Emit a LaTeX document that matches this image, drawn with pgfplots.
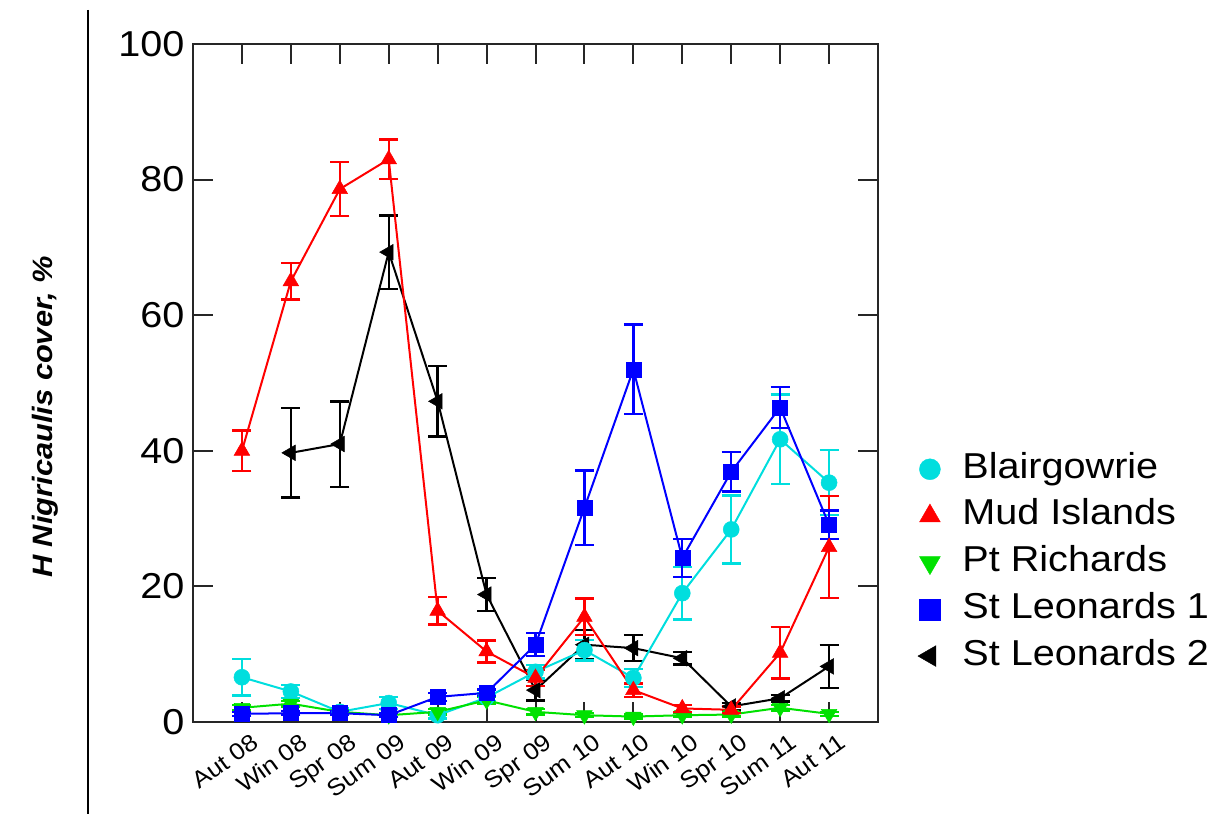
\documentclass[border=0pt]{standalone}
\usepackage{pgfplots}
\pgfplotsset{compat=1.18}
\usepackage{pgfplotstable}
\usepackage{fontspec}
\setmainfont{Liberation Sans}[FakeStretch=1.1]
\definecolor{bcyan}{RGB}{0,222,222}
\definecolor{pgreen}{RGB}{0,225,0}

\pgfplotstableread{
x y e
0 6.6 2.7
1 4.5 1.0
2 1.5 0.5
3 2.8 0.9
4 1.0 0.5
5 3.6 0.6
6 7.4 1.0
7 10.6 1.5
8 6.5 1.3
9 19.0 3.9
10 28.4 5.0
11 41.7 6.6
12 35.3 4.8
}\blair

\pgfplotstableread{
x y e
0 40.0 3.0
1 65.0 2.7
2 78.6 4.0
3 83.0 2.9
4 16.4 2.0
5 10.4 1.6
6 6.5 1.2
7 15.5 2.7
8 4.7 1.0
9 2.0 0.5
10 1.8 0.5
11 10.2 3.8
12 25.8 7.5
}\mud

\pgfplotstableread{
x y e
0 2.1 0.4
1 2.7 0.4
2 1.5 0.3
3 1.0 0.3
4 1.5 0.4
5 3.2 0.5
6 1.5 0.4
7 1.0 0.3
8 0.8 0.3
9 1.0 0.3
10 1.1 0.3
11 2.1 0.4
12 1.2 0.3
}\ptr

\pgfplotstableread{
x y e
0 1.2 0.3
1 1.3 0.3
2 1.3 0.3
3 1.0 0.3
4 3.7 0.6
5 4.3 0.5
6 11.4 1.7
7 31.6 5.5
8 52.0 6.6
9 24.2 2.8
10 36.9 2.9
11 46.4 3.0
12 29.1 2.1
}\sla

\pgfplotstableread{
x y e
1 39.7 6.6
2 41.0 6.3
3 69.3 5.4
4 47.3 5.2
5 18.8 2.4
6 4.7 1.5
7 11.4 2.2
8 10.9 1.9
9 9.4 0.9
10 2.3 0.5
11 3.5 0.5
12 8.2 3.2
}\slb

\begin{document}
\begin{tikzpicture}
\useasboundingbox (-193pt,-92pt) rectangle (1032pt,722pt);
\draw[line width=2.5pt] (-105pt,712pt) -- (-105pt,-92pt);
\begin{axis}[
  at={(0pt,0pt)}, anchor=south west,
  scale only axis, width=685pt, height=678pt,
  xmin=-1, xmax=13, ymin=0, ymax=100,
  xtick={0,...,12},
  xticklabels={Aut 08,Win 08,Spr 08,Sum 09,Aut 09,Win 09,Spr 09,Sum 10,Aut 10,Win 10,Spr 10,Sum 11,Aut 11},
  ytick={0,20,...,100},
  major tick length=20pt,
  tick style={line width=2pt, black!85},
  axis line style={line width=2.5pt, black!85},
  x tick label style={font=\fontsize{23.5}{26}\selectfont, rotate=36, anchor=north east, yshift=-10pt, xshift=4pt},
  y tick label style={font=\fontsize{36}{40}\selectfont, xshift=-5pt},
  /pgf/number format/assume math mode=true,
  ylabel={H Nigricaulis cover, \%},
  ylabel style={font=\fontsize{28}{30}\selectfont\bfseries\itshape, at={(axis description cs:-0.216,0.45)}, anchor=center},
  legend style={draw=none, fill=none, inner sep=0pt, at={(axis description cs:1.058,0.235)}, anchor=west,
    font=\fontsize{36}{40}\selectfont, row sep=12.7pt, column sep=22pt,
    nodes={inner sep=0pt, text height=26pt, text depth=8pt}},
  legend cell align=left,
  legend entries={Blairgowrie, Mud Islands, Pt Richards, St Leonards 1, St Leonards 2},
]
\addlegendimage{only marks, mark=*, color=bcyan, mark size=10.5pt}
\addlegendimage{only marks, mark=triangle*, color=red, mark size=12pt}
\addlegendimage{only marks, mark=triangle*, color=pgreen, mark size=12pt, mark options={rotate=180}}
\addlegendimage{only marks, mark=square*, color=blue, mark size=10.5pt}
\addlegendimage{only marks, mark=triangle*, color=black, mark size=12pt, mark options={rotate=90}}

\addplot[forget plot, color=black, line width=2pt, mark=triangle*, mark size=9pt, mark options={rotate=90, line width=0.5pt},
  error bars/.cd, y dir=both, y explicit, error bar style={line width=2.4pt, black}, error mark options={rotate=90, line width=2.4pt, mark size=9.5pt, black}]
  table[x=x, y=y, y error=e]{\slb};
\addplot[forget plot, color=bcyan, line width=2pt, mark=*, mark size=8pt, mark options={line width=0.5pt},
  error bars/.cd, y dir=both, y explicit, error bar style={line width=2.4pt, bcyan}, error mark options={rotate=90, line width=2.4pt, mark size=9.5pt, bcyan}]
  table[x=x, y=y, y error=e]{\blair};
\addplot[forget plot, color=pgreen, line width=2pt, mark=triangle*, mark size=9pt, mark options={rotate=180, line width=0.5pt},
  error bars/.cd, y dir=both, y explicit, error bar style={line width=2.4pt, pgreen}, error mark options={rotate=90, line width=2.4pt, mark size=9.5pt, pgreen}]
  table[x=x, y=y, y error=e]{\ptr};
\addplot[forget plot, color=red, line width=2pt, mark=triangle*, mark size=9pt, mark options={line width=0.5pt},
  error bars/.cd, y dir=both, y explicit, error bar style={line width=2.4pt, red}, error mark options={rotate=90, line width=2.4pt, mark size=9.5pt, red}]
  table[x=x, y=y, y error=e]{\mud};
\addplot[forget plot, color=blue, line width=2pt, mark=square*, mark size=7.5pt, mark options={line width=0.5pt},
  error bars/.cd, y dir=both, y explicit, error bar style={line width=2.4pt, blue}, error mark options={rotate=90, line width=2.4pt, mark size=9.5pt, blue}]
  table[x=x, y=y, y error=e]{\sla};
\end{axis}
\end{tikzpicture}
\end{document}
